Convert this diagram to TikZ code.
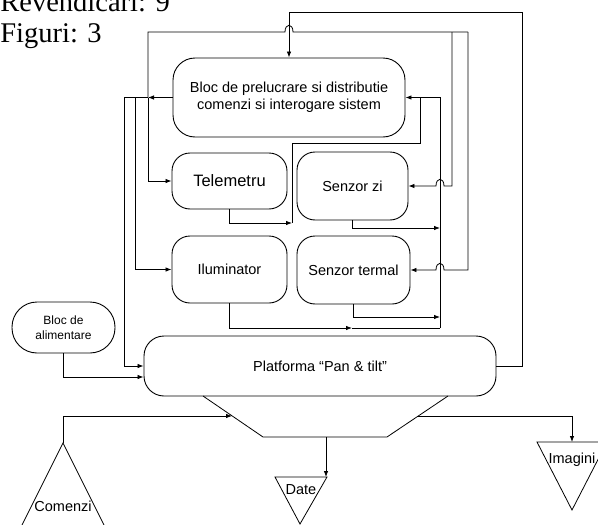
\documentclass[tikz,border=0pt]{standalone}
\usepackage{fontspec}
\setmainfont{Liberation Sans}
\newfontfamily\titlefont{Liberation Serif}
\usetikzlibrary{arrows.meta}
\begin{document}
\begin{tikzpicture}[x=1pt,y=-1pt,
  line width=0.8pt,
  arr/.style={-{Latex[length=6pt,width=4.5pt]}},
  rbox/.style={draw, line width=0.9pt, rounded corners=18pt, align=center, inner sep=0pt,
    font=\fontsize{14.5}{17}\selectfont},
  lbl/.style={inner sep=0pt, anchor=base, font=\fontsize{14.5}{17}\selectfont},
  ttl/.style={inner sep=0pt, anchor=base west, font=\titlefont\fontsize{28.5}{32}\selectfont},
]
\path[use as bounding box, clip] (0,0) rectangle (598,525);

% title
\node[ttl] (rev) at (0,11) {Revendicari: 9};
\node[ttl] (fig) at (0,42) {Figuri: 3};

% boxes
\node[rbox, minimum width=232pt, minimum height=79pt, rounded corners=22pt] (bloc) at (289,97.5)
  {Bloc de prelucrare si distributie\\comenzi si interogare sistem};
\node[rbox, minimum width=115pt, minimum height=56pt, font=\fontsize{16.5}{19}\selectfont] (tele) at (229.5,181) {Telemetru};
\node[rbox, minimum width=111pt, minimum height=68pt] (szi) at (352.5,186) {Senzor zi};
\node[rbox, minimum width=115pt, minimum height=67pt] (ilum) at (229.5,269.5) {Iluminator};
\node[rbox, minimum width=113pt, minimum height=68pt] (sterm) at (353.5,270) {Senzor termal};
\node[rbox, minimum width=103pt, minimum height=51pt, rounded corners=25pt,
  font=\fontsize{12}{15}\selectfont] (alim) at (63.5,327.5) {Bloc de\\alimentare};
\node[rbox, minimum width=352pt, minimum height=60pt, rounded corners=20pt] (plat) at (320,366)
  {Platforma “Pan \& tilt”};

% trapezoid under platform
\coordinate (tTL) at (203,396);
\coordinate (tTR) at (448,396);
\coordinate (tBR) at (387,437);
\coordinate (tBL) at (263,437);
\draw (tTL) -- (tBL) -- (tBR) -- (tTR);

% output / input triangles
\coordinate (comApex) at (63,443);
\draw (-2,573) -- (comApex) -- (128,573);
\node[lbl] (comenzi) at (63,511) {Comenzi};

\coordinate (dateTL) at (275,477);
\coordinate (dateTR) at (327,477);
\draw (dateTL) -- (dateTR) -- (300,524) -- cycle;
\node[lbl] (date) at (301,494) {Date};

\coordinate (imgTL) at (537,442);
\coordinate (imgIn) at (572,442);
\draw (imgTL) -- (607,442) -- (572,510) -- cycle;
\node[lbl] (imagini) at (572,463) {Imagini};

% connectors below platform
\coordinate (dateIn) at (326,477);
\draw[arr] (comApex) -- (63,416) -- (232,416);
\draw[arr] (418,416) -- (572,416) -- (imgIn);
\draw[arr] (326,437) -- (dateIn);

% feedback from platform to processing block
\draw[arr] (plat.east) -- (522,366) -- (522,12) -- (289,12) -- (bloc.north);

% distribution bus from processing block
\draw[arr] (bloc.west) -- (148,97.5);
\draw (124,97.5) -- (148,97.5);
\draw[arr] (148,97.5) -- (148,181) -- (tele.west);
\draw[arr] (135,97.5) -- (135,269.5) -- (ilum.west);
\draw[arr] (124,97.5) -- (124,366) -- (plat.west);
\draw (148,97.5) -- (148,32) -- (285,32) .. controls (285,23) and (293,23) .. (293,32) -- (468,32);
\draw[arr] (452,32) -- (452,186) -- (444,186) .. controls (444,177) and (436,177) .. (436,186) -- (szi.east);
\draw[arr] (468,32) -- (468,270) -- (444,270) .. controls (444,261) and (436,261) .. (436,270) -- (sterm.east);

% power supply
\draw[arr] (alim.south) |- ([yshift=-11pt]plat.west);

% collector bus into processing block
\draw[arr] (440,328) -- (440,97.5) -- (bloc.east);
\draw[arr] (ilum.south) -- (229.5,328) -- (352,328);
\draw (352,328) -- (440,328);
\draw[arr] (szi.south) -- (352.5,228) -- (440,228);
\draw[arr] (sterm.south) -- (353.5,317) -- (440,317);
\draw[arr] (tele.south) -- (229.5,223) -- (292,223);
\draw (292,223) -- (292,143) -- (420,143) -- (420,97.5);
\end{tikzpicture}
\end{document}
